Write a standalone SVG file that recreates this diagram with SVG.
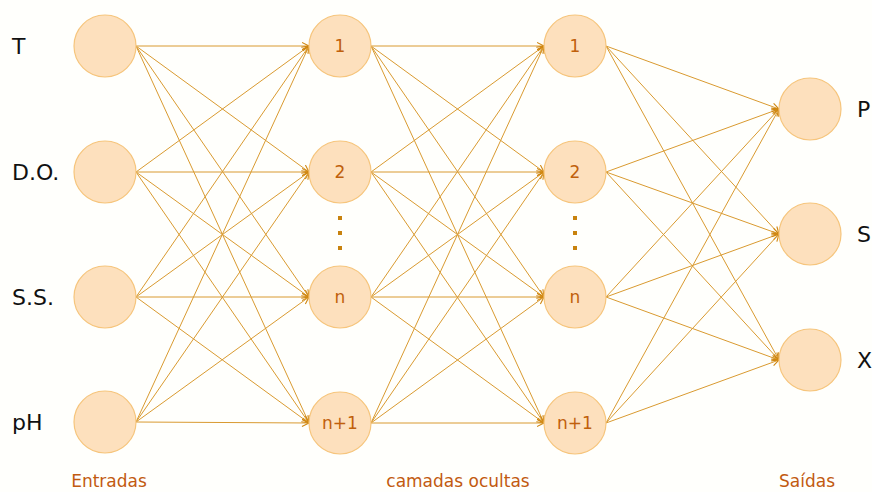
<svg xmlns="http://www.w3.org/2000/svg" width="872" height="492" viewBox="0 0 872 492">
  <defs>
    <marker id="arrow" markerWidth="9" markerHeight="9" refX="7.5" refY="4" orient="auto" markerUnits="userSpaceOnUse">
      <path d="M0.5,0.5 L7.5,4 L0.5,7.5" fill="none" stroke="#cf8610" stroke-width="1.1"/>
    </marker>
    <style>
      .node { fill: #fde0bd; stroke: #f6c57c; stroke-width: 1.2; }
      .edge { stroke: #d99a30; stroke-width: 1; fill: none; marker-end: url(#arrow); }
      .side { font-family: "DejaVu Sans", Verdana, sans-serif; font-size: 22px; fill: #111; }
      .num { font-family: "DejaVu Sans", Verdana, sans-serif; font-size: 17px; fill: #c0600c; text-anchor: middle; }
      .cap { font-family: "DejaVu Sans", Verdana, sans-serif; font-size: 17px; fill: #c25a10; text-anchor: middle; }
      .dot { fill: #c8820e; }
    </style>
  </defs>

  <rect width="872" height="492" fill="#fffffc"/>

  <!-- connectors: input -> hidden 1 -> hidden 2 -> output -->
  <g id="connectors">
    <!-- input layer to hidden layer 1 -->
    <line class="edge" x1="136" y1="46" x2="309" y2="46"/>
    <line class="edge" x1="136" y1="46" x2="309" y2="172"/>
    <line class="edge" x1="136" y1="46" x2="309" y2="297"/>
    <line class="edge" x1="136" y1="46" x2="309" y2="423"/>
    <line class="edge" x1="136" y1="172" x2="309" y2="46"/>
    <line class="edge" x1="136" y1="172" x2="309" y2="172"/>
    <line class="edge" x1="136" y1="172" x2="309" y2="297"/>
    <line class="edge" x1="136" y1="172" x2="309" y2="423"/>
    <line class="edge" x1="136" y1="297" x2="309" y2="46"/>
    <line class="edge" x1="136" y1="297" x2="309" y2="172"/>
    <line class="edge" x1="136" y1="297" x2="309" y2="297"/>
    <line class="edge" x1="136" y1="297" x2="309" y2="423"/>
    <line class="edge" x1="136" y1="422" x2="309" y2="46"/>
    <line class="edge" x1="136" y1="422" x2="309" y2="172"/>
    <line class="edge" x1="136" y1="422" x2="309" y2="297"/>
    <line class="edge" x1="136" y1="422" x2="309" y2="423"/>
    <!-- hidden layer 1 to hidden layer 2 -->
    <line class="edge" x1="371" y1="46" x2="544" y2="46"/>
    <line class="edge" x1="371" y1="46" x2="544" y2="172"/>
    <line class="edge" x1="371" y1="46" x2="544" y2="297"/>
    <line class="edge" x1="371" y1="46" x2="544" y2="423"/>
    <line class="edge" x1="371" y1="172" x2="544" y2="46"/>
    <line class="edge" x1="371" y1="172" x2="544" y2="172"/>
    <line class="edge" x1="371" y1="172" x2="544" y2="297"/>
    <line class="edge" x1="371" y1="172" x2="544" y2="423"/>
    <line class="edge" x1="371" y1="297" x2="544" y2="46"/>
    <line class="edge" x1="371" y1="297" x2="544" y2="172"/>
    <line class="edge" x1="371" y1="297" x2="544" y2="297"/>
    <line class="edge" x1="371" y1="297" x2="544" y2="423"/>
    <line class="edge" x1="371" y1="423" x2="544" y2="46"/>
    <line class="edge" x1="371" y1="423" x2="544" y2="172"/>
    <line class="edge" x1="371" y1="423" x2="544" y2="297"/>
    <line class="edge" x1="371" y1="423" x2="544" y2="423"/>
    <!-- hidden layer 2 to output layer -->
    <line class="edge" x1="606" y1="46" x2="779" y2="109"/>
    <line class="edge" x1="606" y1="46" x2="779" y2="234"/>
    <line class="edge" x1="606" y1="46" x2="779" y2="360"/>
    <line class="edge" x1="606" y1="172" x2="779" y2="109"/>
    <line class="edge" x1="606" y1="172" x2="779" y2="234"/>
    <line class="edge" x1="606" y1="172" x2="779" y2="360"/>
    <line class="edge" x1="606" y1="297" x2="779" y2="109"/>
    <line class="edge" x1="606" y1="297" x2="779" y2="234"/>
    <line class="edge" x1="606" y1="297" x2="779" y2="360"/>
    <line class="edge" x1="606" y1="423" x2="779" y2="109"/>
    <line class="edge" x1="606" y1="423" x2="779" y2="234"/>
    <line class="edge" x1="606" y1="423" x2="779" y2="360"/>
  </g>

  <!-- input layer -->
  <g id="in-T"><circle class="node" cx="105" cy="46" r="31"/><text class="side" x="12" y="54">T</text></g>
  <g id="in-DO"><circle class="node" cx="105" cy="172" r="31"/><text class="side" x="12" y="180">D.O.</text></g>
  <g id="in-SS"><circle class="node" cx="105" cy="297" r="31"/><text class="side" x="12" y="305">S.S.</text></g>
  <g id="in-pH"><circle class="node" cx="105" cy="422" r="31"/><text class="side" x="12" y="430">pH</text></g>

  <!-- hidden layer 1 -->
  <g id="h1-1"><circle class="node" cx="340" cy="46" r="31"/><text class="num" x="340" y="52">1</text></g>
  <g id="h1-2"><circle class="node" cx="340" cy="172" r="31"/><text class="num" x="340" y="178">2</text></g>
  <g id="h1-dots">
    <rect class="dot" x="338" y="216" width="4" height="4"/>
    <rect class="dot" x="338" y="231" width="4" height="4"/>
    <rect class="dot" x="338" y="246" width="4" height="4"/>
  </g>
  <g id="h1-n"><circle class="node" cx="340" cy="297" r="31"/><text class="num" x="340" y="303">n</text></g>
  <g id="h1-n1"><circle class="node" cx="340" cy="423" r="31"/><text class="num" x="340" y="429">n+1</text></g>

  <!-- hidden layer 2 -->
  <g id="h2-1"><circle class="node" cx="575" cy="46" r="31"/><text class="num" x="575" y="52">1</text></g>
  <g id="h2-2"><circle class="node" cx="575" cy="172" r="31"/><text class="num" x="575" y="178">2</text></g>
  <g id="h2-dots">
    <rect class="dot" x="573" y="216" width="4" height="4"/>
    <rect class="dot" x="573" y="231" width="4" height="4"/>
    <rect class="dot" x="573" y="246" width="4" height="4"/>
  </g>
  <g id="h2-n"><circle class="node" cx="575" cy="297" r="31"/><text class="num" x="575" y="303">n</text></g>
  <g id="h2-n1"><circle class="node" cx="575" cy="423" r="31"/><text class="num" x="575" y="429">n+1</text></g>

  <!-- output layer -->
  <g id="out-P"><circle class="node" cx="810" cy="109" r="31"/><text class="side" x="857" y="117">P</text></g>
  <g id="out-S"><circle class="node" cx="810" cy="234" r="31"/><text class="side" x="857" y="242">S</text></g>
  <g id="out-X"><circle class="node" cx="810" cy="360" r="31"/><text class="side" x="857" y="368">X</text></g>

  <!-- layer captions -->
  <text class="cap" x="109" y="487">Entradas</text>
  <text class="cap" x="458" y="487">camadas ocultas</text>
  <text class="cap" x="807" y="487">Saídas</text>
</svg>
